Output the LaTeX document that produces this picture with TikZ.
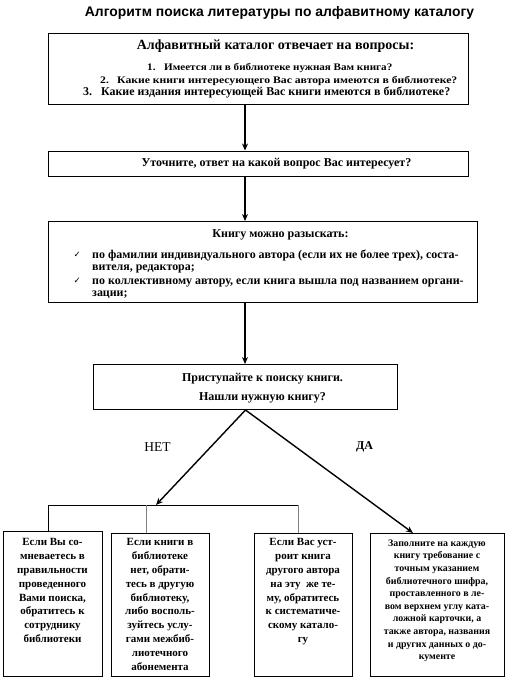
\documentclass[tikz,border=0pt]{standalone}
\usepackage{fontspec}
\setmainfont{Liberation Serif}
\newfontfamily\titlefont{Liberation Sans}
\newfontfamily\symfont{DejaVu Sans}
\newfontface\wideA[FakeStretch=1.11]{Liberation Serif Bold}
\newfontface\wideB[FakeStretch=1.17]{Liberation Serif Bold}
\usetikzlibrary{arrows.meta}
\begin{document}
\begin{tikzpicture}[x=1pt,y=-1pt,
  box/.style={draw,line width=1pt,inner sep=0pt,anchor=north west},
  txt/.style={inner sep=0pt,anchor=base,font=\bfseries\fontsize{12}{14}\selectfont},
  item/.style={inner sep=0pt,anchor=base west},
  btxt/.style={inner sep=0pt,anchor=north,align=center,font=\bfseries\fontsize{11}{13.8}\selectfont},
  arr/.style={line width=1.6pt,-{Stealth[length=7pt,width=6pt]}},
  thinline/.style={line width=0.9pt},
  grayline/.style={line width=0.9pt,draw=gray}]
\useasboundingbox (0,0) rectangle (509,681);
% title
\node[inner sep=0pt,anchor=base,font=\titlefont\bfseries\fontsize{13.9}{16}\selectfont] (title) at (279.5,16) {Алгоритм поиска литературы по алфавитному каталогу};
% box 1
\node[box,minimum width=420pt,minimum height=71pt] (b1) at (48,32.5) {};
\node[txt,font=\bfseries\fontsize{14}{16}\selectfont] (b1h) at (275.5,49.5) {Алфавитный каталог отвечает на вопросы:};
\node[item,font=\wideA\fontsize{10}{11}\selectfont] (i1) at (147,70) {\makebox[17pt][l]{1.}Имеется ли в библиотеке нужная Вам книга?};
\node[item,font=\wideB\fontsize{10}{11}\selectfont] (i2) at (100,83) {\makebox[17pt][l]{2.}Какие книги интересующего Вас автора имеются в библиотеке?};
\node[item,font=\bfseries\fontsize{11.9}{13}\selectfont] (i3) at (83,95.5) {\makebox[18pt][l]{3.}Какие издания интересующей Вас книги имеются в библиотеке?};
% box 2
\node[box,minimum width=420pt,minimum height=25.5pt] (b2) at (48,150.5) {};
\node[txt] (b2t) at (276.5,166) {Уточните, ответ на какой вопрос Вас интересует?};
% box 3
\node[box,minimum width=429pt,minimum height=81pt] (b3) at (48,221) {};
\node[txt] (b3h) at (280.5,237) {Книгу можно разыскать:};
\node[item,font=\symfont\fontsize{8.5}{9}\selectfont] (c1) at (73.5,257) {✓};
\node[item,font=\symfont\fontsize{8.5}{9}\selectfont] (c2) at (73.5,283) {✓};
\node[item,font=\bfseries\fontsize{11.95}{13}\selectfont] (l1) at (92,258) {по фамилии индивидуального автора (если их не более трех), соста-};
\node[item,font=\bfseries\fontsize{11.95}{13}\selectfont] (l2) at (92,270) {вителя, редактора;};
\node[item,font=\bfseries\fontsize{11.95}{13}\selectfont] (l3) at (92,284) {по коллективному автору, если книга вышла под названием органи-};
\node[item,font=\bfseries\fontsize{11.95}{13}\selectfont] (l4) at (92,296) {зации;};
% box 4
\node[box,minimum width=304pt,minimum height=45pt] (b4) at (93,364) {};
\node[txt] (b4a) at (262.5,381) {Приступайте к поиску книги.};
\node[txt] (b4b) at (262.5,400.5) {Нашли нужную книгу?};
% labels
\node[inner sep=0pt,anchor=base,font=\fontsize{13.5}{15}\selectfont] (net) at (157.5,451) {НЕТ};
\node[txt] (da) at (364.5,449) {ДА};
% bottom boxes
\node[box,minimum width=99pt,minimum height=145pt] (bA) at (3,531) {};
\node[box,minimum width=98pt,minimum height=143pt] (bB) at (111,533) {};
\node[box,minimum width=98pt,minimum height=143pt] (bC) at (254,533) {};
\node[box,minimum width=134pt,minimum height=143pt] (bD) at (370,533) {};
\node[btxt] (tA) at (52.5,538.5) {Если Вы со-\\мневаетесь в\\правильности\\проведенного\\Вами поиска,\\обратитесь к\\сотруднику\\библиотеки};
\node[btxt] (tB) at (160,538.5) {Если книги в\\библиотеке\\нет, обрати-\\тесь в другую\\библиотеку,\\либо восполь-\\зуйтесь услу-\\гами межбиб-\\лиотечного\\абонемента};
\node[btxt] (tC) at (303,538.5) {Если Вас уст-\\роит книга\\другого автора\\на эту\ \ же те-\\му, обратитесь\\к систематиче-\\скому катало-\\гу};
\node[btxt,font=\bfseries\fontsize{9.9}{12.6}\selectfont] (tD) at (437,539.5) {Заполните на каждую\\книгу требование с\\точным указанием\\библиотечного шифра,\\проставленного в ле-\\вом верхнем углу ката-\\ложной карточки, а\\также автора, названия\\и других данных о до-\\кументе};
% connectors
\coordinate (ax) at (245,0);
\draw[arr] (b1.south -| ax) -- (b2.north -| ax);
\draw[arr] (b2.south -| ax) -- (b3.north -| ax);
\draw[arr] (b3.south -| ax) -- (b4.north -| ax);
\coordinate (hL) at (48,505);
\coordinate (hR) at (298,505);
\coordinate (nt) at (156,505);
\coordinate (dt) at (413,533);
\coordinate (g1) at (146.5,505);
\draw[thinline] (bA.north -| hL) -- (hL) -- (hR);
\draw[grayline] (g1) -- (g1 |- bB.north);
\draw[grayline] (hR) -- (hR |- bC.north);
\draw[line width=1.4pt,-{Stealth[length=7pt,width=6pt]}] (b4.south) -- (nt);
\draw[line width=1.4pt,-{Stealth[length=7pt,width=6pt]}] (b4.south) -- (dt);
\end{tikzpicture}
\end{document}
